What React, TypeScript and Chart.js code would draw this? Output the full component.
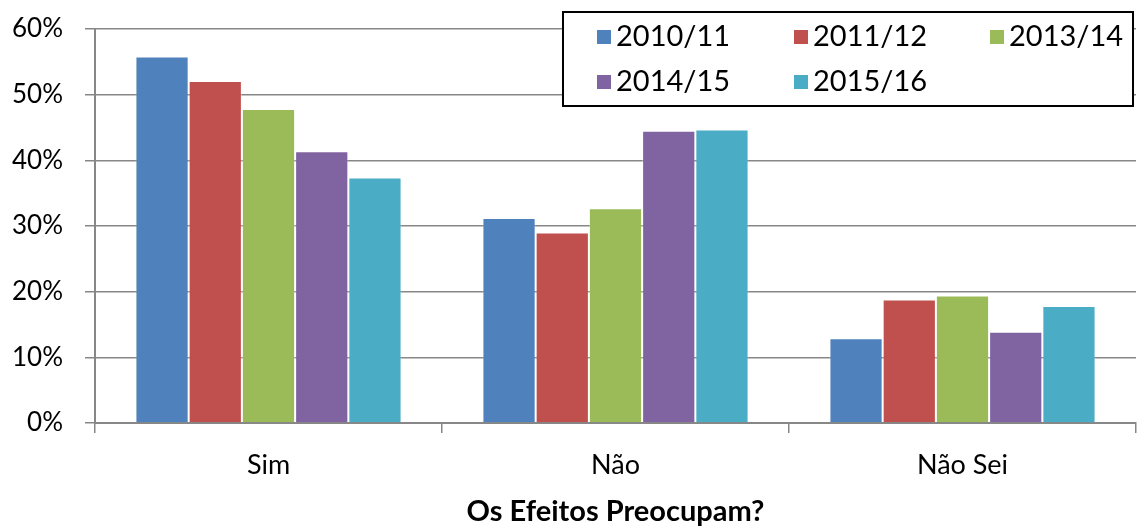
import React, { useEffect, useRef } from "react";
import { Chart, registerables } from "chart.js";

Chart.register(...registerables);

const categories = ["Sim", "Não", "Não Sei"];
const seriesLabels = ["2010/11", "2011/12", "2013/14", "2014/15", "2015/16"];
const s2010 = [55.8, 31.2, 12.9];
const s2011 = [52.1, 29.0, 18.8];
const s2013 = [47.8, 32.7, 19.4];
const s2014 = [41.4, 44.5, 13.9];
const s2015 = [37.4, 44.7, 17.8];
const seriesValues = [s2010, s2011, s2013, s2014, s2015];
const seriesColors = ["#4F81BD", "#C0504D", "#9BBB59", "#8064A2", "#4BACC6"];
const yTicks = [0, 10, 20, 30, 40, 50, 60];
const xTitle = "Os Efeitos Preocupam?";

const FONT = "Lato, 'Open Sans', sans-serif";

const boxLegend = {
  id: "boxLegend",
  afterDraw(chart: any) {
    const ctx = chart.ctx;
    ctx.save();
    const x0 = 563, y0 = 12, x1 = 1133, y1 = 106;
    ctx.fillStyle = "#ffffff";
    ctx.fillRect(x0, y0, x1 - x0, y1 - y0);
    ctx.strokeStyle = "#000000";
    ctx.lineWidth = 2;
    ctx.strokeRect(x0, y0, x1 - x0, y1 - y0);
    const cols = [597, 794, 990];
    const rows = [37, 82];
    ctx.font = `29px ${FONT}`;
    ctx.textBaseline = "middle";
    ctx.textAlign = "left";
    chart.data.datasets.forEach((ds: any, i: number) => {
      const cx = cols[i % 3];
      const cy = rows[Math.floor(i / 3)];
      ctx.fillStyle = ds.backgroundColor;
      ctx.fillRect(cx, cy - 7, 14, 14);
      ctx.fillStyle = "#000000";
      ctx.fillText(ds.label, cx + 19, cy);
    });
    ctx.restore();
  },
};

export default function App() {
  const ref = useRef<HTMLCanvasElement | null>(null);
  useEffect(() => {
    document.body.style.margin = "0";
    const canvas = ref.current;
    if (!canvas) return;
    const chart = new Chart(canvas, {
      type: "bar",
      data: {
        labels: categories,
        datasets: seriesLabels.map((label, i) => ({
          label,
          data: seriesValues[i],
          backgroundColor: seriesColors[i],
          borderColor: "rgba(255,255,255,0.3)",
          borderWidth: 1,
          categoryPercentage: 0.767,
          barPercentage: 1,
        })),
      },
      options: {
        responsive: false,
        animation: false,
        layout: { padding: { top: 29, right: 12, bottom: 0, left: 0 } },
        plugins: {
          legend: { display: false },
          tooltip: { enabled: false },
        },
        scales: {
          x: {
            grid: {
              display: true,
              drawOnChartArea: false,
              drawTicks: true,
              tickLength: 10,
              color: "#878787",
              lineWidth: 1.5,
              offset: true,
            },
            border: { display: true, color: "#878787", width: 2 },
            ticks: {
              color: "#000000",
              font: { family: FONT, size: 27 },
              padding: 16,
            },
            title: {
              display: true,
              text: xTitle,
              color: "#000000",
              font: { family: FONT, size: 29, weight: "bold" },
              padding: { top: 4, bottom: -2 },
            },
            afterFit: (scale: any) => {
              scale.height = 104;
              scale.paddingLeft = 0;
              scale.paddingRight = 0;
            },
          },
          y: {
            min: 0,
            max: 60,
            afterBuildTicks: (scale: any) => {
              scale.ticks = yTicks.map((v) => ({ value: v }));
            },
            grid: {
              color: "#878787",
              lineWidth: 1.5,
              tickLength: 10,
            },
            border: { display: true, color: "#878787", width: 2 },
            ticks: {
              color: "#000000",
              font: { family: FONT, size: 26 },
              padding: 22,
              callback: (v: any) => `${v}%`,
            },
            afterFit: (scale: any) => {
              scale.width = 95;
              scale.paddingTop = 0;
              scale.paddingBottom = 0;
            },
          },
        },
      },
      plugins: [boxLegend],
    });
    return () => chart.destroy();
  }, []);
  return (
    <div style={{ width: 1148, height: 527 }}>
      <canvas ref={ref} width={1148} height={527} />
    </div>
  );
}
